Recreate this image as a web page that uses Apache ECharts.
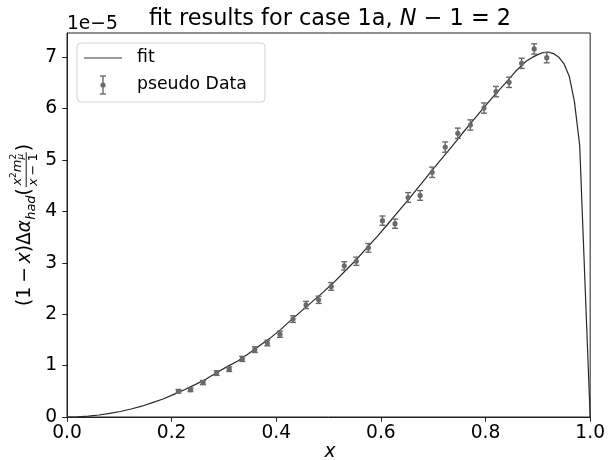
<!DOCTYPE html>
<html>
<head>
<meta charset="utf-8">
<script src="https://cdn.jsdelivr.net/npm/echarts@6/dist/echarts.min.js"></script>
<style>
  html, body { margin: 0; padding: 0; background: #fff; }
  #chart { width: 608px; height: 460px; }
</style>
</head>
<body>
<div id="chart"></div>
<script>
// Pseudo data (values in units of 1e-5)
const dataX = [0.213, 0.236, 0.260, 0.286, 0.310, 0.335, 0.359, 0.383, 0.407, 0.432,
               0.457, 0.481, 0.505, 0.530, 0.553, 0.576, 0.603, 0.627, 0.652, 0.675,
               0.698, 0.723, 0.747, 0.771, 0.797, 0.820, 0.845, 0.869, 0.893, 0.917];
const dataY = [0.50, 0.53, 0.67, 0.855, 0.93, 1.13, 1.31, 1.44, 1.61, 1.905,
               2.18, 2.28, 2.54, 2.94, 3.03, 3.29, 3.82, 3.76, 4.27, 4.31,
               4.76, 5.25, 5.52, 5.68, 6.01, 6.33, 6.51, 6.88, 7.16, 6.99];
const dataErr = [0.035, 0.035, 0.04, 0.045, 0.045, 0.05, 0.055, 0.055, 0.06, 0.065,
                 0.07, 0.07, 0.075, 0.08, 0.08, 0.085, 0.09, 0.09, 0.095, 0.095,
                 0.1, 0.1, 0.1, 0.1, 0.1, 0.1, 0.1, 0.1, 0.1, 0.1];

// Fitted curve samples
const fitX = [0.0000, 0.0204, 0.0408, 0.0612, 0.0816, 0.1020, 0.1224, 0.1429, 0.1633, 0.1837,
              0.2041, 0.2245, 0.2449, 0.2653, 0.2857, 0.3061, 0.3265, 0.3469, 0.3673, 0.3878,
              0.4082, 0.4286, 0.4490, 0.4694, 0.4898, 0.5102, 0.5306, 0.5510, 0.5714, 0.5918,
              0.6122, 0.6327, 0.6531, 0.6735, 0.6939, 0.7143, 0.7347, 0.7551, 0.7755, 0.7959,
              0.8163, 0.8367, 0.8571, 0.8776, 0.8900, 0.9000, 0.9100, 0.9200, 0.9300, 0.9400,
              0.9500, 0.9600, 0.9700, 0.9800, 1.0000];
const fitY = [0.000, 0.004, 0.017, 0.039, 0.069, 0.107, 0.155, 0.210, 0.280, 0.350,
              0.440, 0.530, 0.630, 0.735, 0.860, 0.980, 1.090, 1.230, 1.380, 1.530,
              1.700, 1.890, 2.070, 2.250, 2.430, 2.620, 2.830, 3.040, 3.270, 3.500,
              3.740, 3.990, 4.240, 4.490, 4.750, 5.000, 5.250, 5.510, 5.760, 6.010,
              6.250, 6.480, 6.720, 6.920, 7.000, 7.050, 7.090, 7.100, 7.070, 7.000,
              6.870, 6.630, 6.130, 5.280, 0.000];

const xTicks = [0, 0.2, 0.4, 0.6, 0.8, 1.0];
const yTicks = [0, 1, 2, 3, 4, 5, 6, 7];

const FF = '"DejaVu Sans", sans-serif';
const FS = 18.67;      // tick / axis label size
const MID = 0.346;     // canvas "middle" offset above the baseline, in em

const chart = echarts.init(document.getElementById('chart'), null, { renderer: 'canvas' });

// text measuring for the math-style y label
const mctx = document.createElement('canvas').getContext('2d');
function textW(t, size, italic) {
  mctx.font = (italic ? 'italic ' : '') + size + 'px ' + FF;
  return mctx.measureText(t).width;
}
function tok(t, size, italic, x, base) {
  return {
    type: 'text',
    style: {
      text: t, x: x, y: base - MID * size,
      fontSize: size, fontFamily: FF, fontStyle: italic ? 'italic' : 'normal',
      fill: '#000', align: 'left', verticalAlign: 'middle'
    }
  };
}

// (1 − x)Δα_had( x²m_μ² / (x − 1) ), laid out horizontally then rotated
function buildYLabel() {
  const items = [];
  const B = 32;            // main baseline (local y)
  const S = 13;            // fraction font size
  const s = 9;             // script size
  const sp = 4;            // operator spacing
  let x = 0;
  const put = (t, size, italic, dy) => { items.push(tok(t, size, italic, x, B + (dy || 0))); x += textW(t, size, italic); };
  put('(', FS, false); put('1', FS, false); x += sp; put('\u2212', FS, false); x += sp;
  put('x', FS, true); put(')', FS, false); put('\u0394', FS, false); put('\u03b1', FS, true);
  put('had', 13, true, 4.5);
  put('(', FS, false);
  // fraction
  const bar = B - 5.8;
  const numB = bar - 4.5, denB = bar + 11.5;
  const numW = textW('x', S, true) + textW('2', s) + textW('m', S, true) + Math.max(textW('\u03bc', s, true), textW('2', s));
  const denW = textW('x', S, true) + 3 + textW('\u2212', S) + 3 + textW('1', S);
  const fw = Math.max(numW, denW) + 2;
  const f0 = x + 1;
  let nx = f0 + (fw - numW) / 2;
  items.push(tok('x', S, true, nx, numB)); nx += textW('x', S, true);
  items.push(tok('2', s, false, nx, numB - 5)); nx += textW('2', s);
  items.push(tok('m', S, true, nx, numB)); nx += textW('m', S, true);
  items.push(tok('2', s, false, nx, numB - 5));
  items.push(tok('\u03bc', s, true, nx, numB + 2.5));
  let dx = f0 + (fw - denW) / 2;
  items.push(tok('x', S, true, dx, denB)); dx += textW('x', S, true) + 3;
  items.push(tok('\u2212', S, false, dx, denB)); dx += textW('\u2212', S) + 3;
  items.push(tok('1', S, false, dx, denB));
  items.push({ type: 'line', shape: { x1: f0, y1: bar, x2: f0 + fw, y2: bar }, style: { stroke: '#000', lineWidth: 0.9 } });
  x = f0 + fw + 1;
  put(')', FS, false);
  const W = x;
  items.forEach(it => {
    if (it.type === 'text') it.style.x -= W / 2;
    else { it.shape.x1 -= W / 2; it.shape.x2 -= W / 2; }
  });
  return { type: 'group', x: 0, y: 225, rotation: Math.PI / 2, children: items };
}

const GREY = '#6a6a6a';

const option = {
  animation: false,
  backgroundColor: '#fff',
  grid: { left: 67, right: 15, top: 33, bottom: 43, show: true, borderColor: '#222', borderWidth: 1, backgroundColor: 'transparent' },
  xAxis: {
    type: 'value', min: 0, max: 1, interval: 0.2,
    axisLine: { show: true, onZero: false, lineStyle: { color: '#222', width: 1 } },
    axisTick: { show: true, inside: false, length: 4.7, customValues: xTicks, lineStyle: { color: '#222', width: 1 } },
    axisLabel: { customValues: xTicks, fontSize: FS, fontFamily: FF, color: '#000', margin: 7, formatter: v => v.toFixed(1) },
    splitLine: { show: false }
  },
  yAxis: {
    type: 'value', min: 0, max: 7.47, interval: 1,
    axisLine: { show: true, onZero: false, lineStyle: { color: '#222', width: 1 } },
    axisTick: { show: true, inside: false, length: 4.7, customValues: yTicks, lineStyle: { color: '#222', width: 1 } },
    axisLabel: { customValues: yTicks, fontSize: FS, fontFamily: FF, color: '#000', margin: 10, formatter: v => String(v) },
    splitLine: { show: false }
  },
  series: [
    {
      name: 'fit', type: 'line', data: fitX.map((x, i) => [x, fitY[i]]),
      showSymbol: false, symbol: 'none', smooth: false, clip: true,
      lineStyle: { color: '#1f2a33', width: 1.2 }, z: 2
    },
    {
      name: 'pseudo Data', type: 'custom', z: 3,
      data: dataX.map((x, i) => [x, dataY[i], dataErr[i]]),
      encode: { x: 0, y: 1 },
      renderItem: (params, api) => {
        const x = api.value(0), y = api.value(1), e = api.value(2);
        const lo = api.coord([x, y - e]), hi = api.coord([x, y + e]), c = api.coord([x, y]);
        const cw = 3;
        const st = { stroke: GREY, lineWidth: 1.4 };
        return {
          type: 'group', children: [
            { type: 'line', shape: { x1: lo[0], y1: lo[1], x2: hi[0], y2: hi[1] }, style: st },
            { type: 'line', shape: { x1: lo[0] - cw, y1: lo[1], x2: lo[0] + cw, y2: lo[1] }, style: st },
            { type: 'line', shape: { x1: hi[0] - cw, y1: hi[1], x2: hi[0] + cw, y2: hi[1] }, style: st },
            { type: 'circle', shape: { cx: c[0], cy: c[1], r: 2.6 }, style: { fill: GREY } }
          ]
        };
      }
    }
  ],
  graphic: [
    // title
    {
      type: 'text', x: 330, y: 27 - MID * 22.4, z: 10,
      style: {
        text: 'fit results for case 1a, {i|N} \u2212 1 = 2',
        fontSize: 22.4, fontFamily: FF, fill: '#000', align: 'center', verticalAlign: 'middle',
        rich: { i: { fontSize: 22.4, fontFamily: FF, fontStyle: 'italic', fill: '#000' } }
      }
    },
    // offset text of the y axis
    {
      type: 'text', x: 67, y: 31 - MID * FS, z: 10,
      style: { text: '1e\u22125', fontSize: FS, fontFamily: FF, fill: '#000', align: 'left', verticalAlign: 'middle' }
    },
    // x axis label
    {
      type: 'text', x: 330, y: 459 - MID * FS, z: 10,
      style: { text: 'x', fontSize: FS, fontFamily: FF, fontStyle: 'italic', fill: '#000', align: 'center', verticalAlign: 'middle' }
    },
    // y axis label
    buildYLabel(),
    // legend
    {
      type: 'group', z: 20, children: [
        { type: 'rect', shape: { x: 77, y: 43, width: 188, height: 59, r: 4 }, style: { fill: 'rgba(255,255,255,0.8)', stroke: '#d4d4d4', lineWidth: 1 } },
        { type: 'line', shape: { x1: 84, y1: 58, x2: 122, y2: 58 }, style: { stroke: '#7a7a7a', lineWidth: 1.4 } },
        { type: 'text', style: { text: 'fit', x: 137, y: 58, fontSize: 17.3, fontFamily: FF, fill: '#000', verticalAlign: 'middle' } },
        { type: 'line', shape: { x1: 103, y1: 76, x2: 103, y2: 94 }, style: { stroke: GREY, lineWidth: 1.4 } },
        { type: 'line', shape: { x1: 100, y1: 76, x2: 106, y2: 76 }, style: { stroke: GREY, lineWidth: 1.4 } },
        { type: 'line', shape: { x1: 100, y1: 94, x2: 106, y2: 94 }, style: { stroke: GREY, lineWidth: 1.4 } },
        { type: 'circle', shape: { cx: 103, cy: 85, r: 2.6 }, style: { fill: GREY } },
        { type: 'text', style: { text: 'pseudo Data', x: 137, y: 85, fontSize: 17.3, fontFamily: FF, fill: '#000', verticalAlign: 'middle' } }
      ]
    }
  ]
};

chart.setOption(option);
</script>
</body>
</html>
